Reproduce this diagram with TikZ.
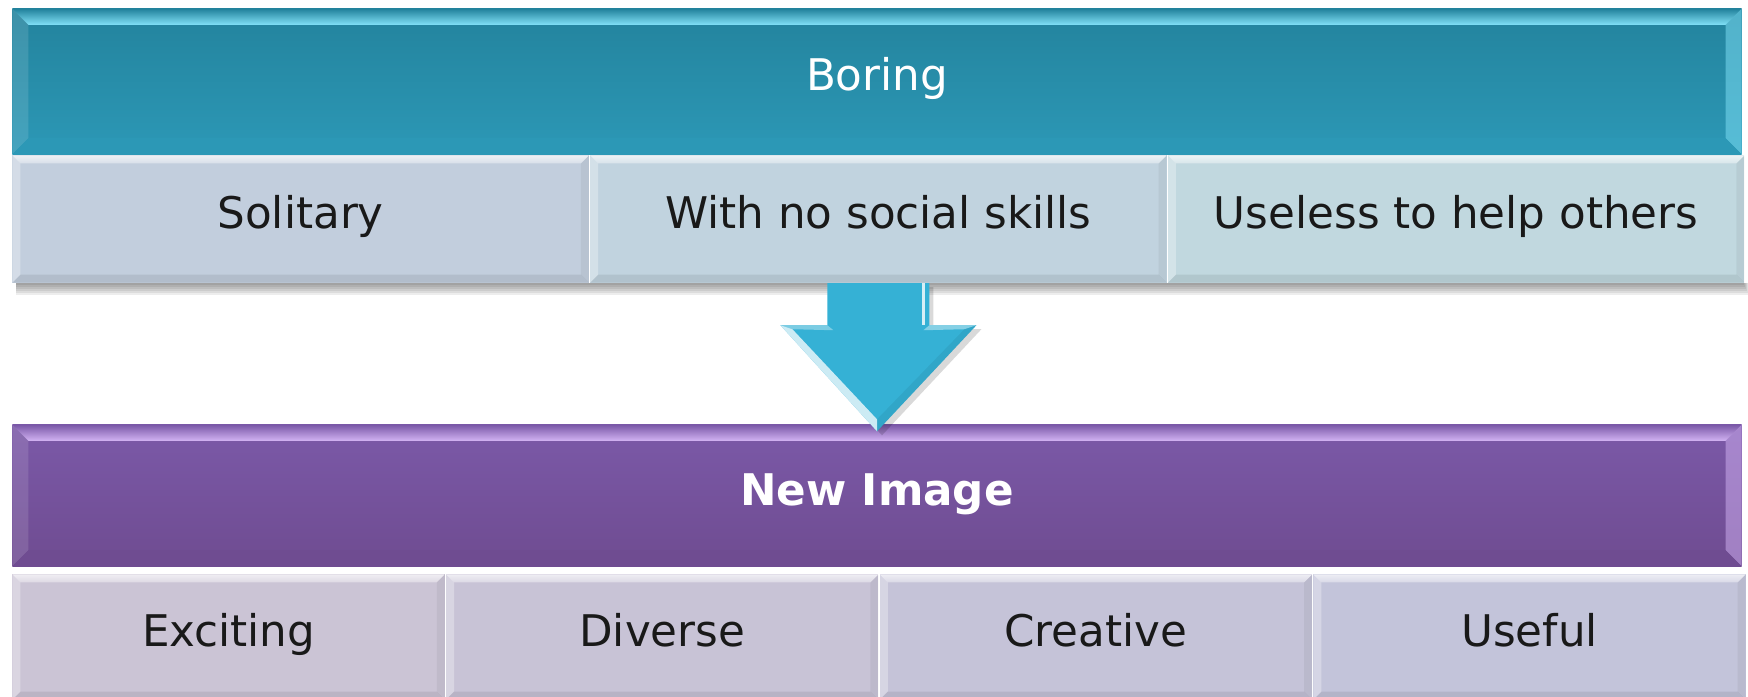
\documentclass[tikz,border=0pt]{standalone}
\usepackage{fontspec}
\setmainfont{DejaVu Sans}
\usetikzlibrary{positioning,calc}
\definecolor{tealtop}{HTML}{23839D}
\definecolor{tealbot}{HTML}{2C98B6}
\definecolor{tealhi}{HTML}{82E2F8}
\definecolor{purptop}{HTML}{7B59A8}
\definecolor{purpbot}{HTML}{6F4C91}
\definecolor{purphi}{HTML}{D3B4F4}
\definecolor{arrowcol}{HTML}{35B1D5}
\definecolor{cellA}{HTML}{C2CEDD}
\definecolor{cellB}{HTML}{C1D3DF}
\definecolor{cellC}{HTML}{C1D8DF}
\definecolor{cellD}{HTML}{CBC4D5}
\definecolor{cellE}{HTML}{C8C3D6}
\definecolor{cellF}{HTML}{C5C3D8}
\definecolor{cellG}{HTML}{C3C4DA}
\tikzset{
  % four bevel strips inside a box: depth, top, left, right, bottom
  bevel/.style n args={5}{path picture={
    \path (path picture bounding box.north west) coordinate (bnw)
          (path picture bounding box.north east) coordinate (bne)
          (path picture bounding box.south west) coordinate (bsw)
          (path picture bounding box.south east) coordinate (bse);
    \path[#2] (bnw) -- (bne) -- ([shift={(-#1,#1)}]bne) -- ([shift={(#1,#1)}]bnw) -- cycle;
    \path[#3] (bnw) -- ([shift={(#1,#1)}]bnw) -- ([shift={(#1,-#1)}]bsw) -- (bsw) -- cycle;
    \path[#4] (bne) -- ([shift={(-#1,#1)}]bne) -- ([shift={(-#1,-#1)}]bse) -- (bse) -- cycle;
    \path[#5] (bsw) -- ([shift={(#1,-#1)}]bsw) -- ([shift={(-#1,-#1)}]bse) -- (bse) -- cycle;
  }},
  txt/.style={font=\fontsize{12.4}{15}\selectfont, text height=0.74em, text depth=0.2em},
  header/.style={rectangle, inner sep=0pt, minimum width=17.28cm, text=white, txt},
  cell/.style={rectangle, inner sep=0pt, fill=#1, text=black!90, txt,
    bevel={8}{top color=white!70!#1, bottom color=white!35!#1}{fill=white, opacity=.3}{fill=black, opacity=.05}{fill=black, opacity=.08}},
}

\begin{document}
\begin{tikzpicture}[x=0.01cm, y=-0.01cm]
\useasboundingbox[fill=white] (0,0) rectangle (1748,697);

% old image
\node[header, minimum height=1.45cm, top color=tealtop, bottom color=tealbot,
  bevel={16}{top color=tealtop, bottom color=tealhi}{fill=white, opacity=.12}{fill=tealhi, opacity=.5}{fill=tealbot}] (boring) at (877,81.5) {Boring};
\node[cell=cellA, minimum width=5.76cm, minimum height=1.27cm, anchor=north west] (solitary) at (boring.south west) {Solitary};
\node[cell=cellB, minimum width=5.76cm, minimum height=1.27cm, right=0pt of solitary] (noskills) {With no social skills};
\node[cell=cellC, minimum width=5.76cm, minimum height=1.27cm, right=0pt of noskills] (useless) {Useless to help others};

% soft shadow under the old image
\foreach \d in {2,4,...,12}
  \fill[black, opacity=.07] ([shift={(4,0)}]solitary.south west) rectangle ([shift={(\d/2-2,\d)}]useless.south east);

% new image
\node[header, minimum height=1.41cm, top color=purptop, bottom color=purpbot,
  font=\fontsize{12.4}{15}\selectfont\bfseries,
  bevel={16}{top color=purptop, bottom color=purphi}{fill=white, opacity=.12}{fill=purphi, opacity=.5}{fill=purpbot}] (newimage) at (877,495.5) {New Image};
\node[cell=cellD, minimum width=4.32cm, minimum height=1.25cm, anchor=north west] (exciting) at ([yshift=-2]newimage.south west) {Exciting};
\node[cell=cellE, minimum width=4.32cm, minimum height=1.25cm, right=0pt of exciting] (diverse) {Diverse};
\node[cell=cellF, minimum width=4.32cm, minimum height=1.25cm, right=0pt of diverse] (creative) {Creative};
\node[cell=cellG, minimum width=4.32cm, minimum height=1.25cm, right=0pt of creative] (useful) {Useful};

% arrow from old to new
\coordinate (tail) at (noskills.south);
\coordinate (tip) at ([yshift=-2]newimage.north);
\fill[black, opacity=.15] ($(tail)+(-47,4)$) -- ($(tail)+(55,4)$) -- ($(tail)+(55,46)$) -- ($(tail)+(103,46)$)
  -- ($(tip)+(5,4)$) -- ($(tail)+(-93,46)$) -- ($(tail)+(-47,46)$) -- cycle;
\fill[arrowcol] ($(tail)+(-51,0)$) -- ($(tail)+(51,0)$) -- ($(tail)+(51,42)$) -- ($(tail)+(98,42)$)
  -- (tip) -- ($(tail)+(-98,42)$) -- ($(tail)+(-51,42)$) -- cycle;
% bevel highlights on the arrow
\fill[white, opacity=.75] ($(tail)+(-98,42)$) -- ($(tail)+(-86,46)$) -- ($(tip)+(0,-12)$) -- (tip) -- cycle;
\fill[white, opacity=.35] ($(tail)+(-98,42)$) -- ($(tail)+(-51,42)$) -- ($(tail)+(-45,47)$) -- ($(tail)+(-86,46)$) -- cycle;
\fill[white, opacity=.4] ($(tail)+(98,42)$) -- ($(tail)+(51,42)$) -- ($(tail)+(45,47)$) -- ($(tail)+(86,46)$) -- cycle;
\fill[white, opacity=.8] ($(tail)+(44,0)$) rectangle ($(tail)+(47,42)$);
\fill[black, opacity=.06] (tip) -- ($(tail)+(98,42)$) -- ($(tail)+(86,46)$) -- ($(tip)+(0,-12)$) -- cycle;
\end{tikzpicture}
\end{document}
